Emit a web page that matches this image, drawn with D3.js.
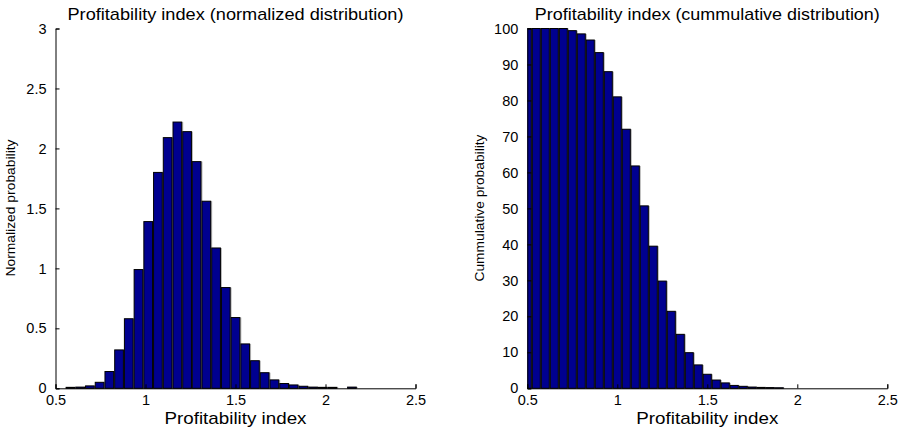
<!DOCTYPE html>
<html lang="en">
  <head>
    <meta charset="utf-8">
    <title>Profitability index</title>
    <script src="https://d3js.org/d3.v7.min.js"></script>
    <style>
      body { margin: 0; background: #fff; }
      text { font-family: "Liberation Sans", Arial, sans-serif; fill: #000; }
    </style>
  </head>
  <body>
    <div id="chart"></div>
    <script>
      // normalized histogram (bin centres + density)
      var normCenters = [0.583, 0.637, 0.691, 0.745, 0.799, 0.853, 0.907, 0.961, 1.015, 1.069,
                         1.123, 1.177, 1.231, 1.284, 1.338, 1.392, 1.446, 1.500, 1.554, 1.608,
                         1.662, 1.716, 1.770, 1.823, 1.877, 1.931, 1.985, 2.039, 2.093, 2.147];
      var normValues = [0.008, 0.01, 0.02, 0.05, 0.14, 0.32, 0.58, 0.99, 1.39, 1.80,
                        2.09, 2.22, 2.14, 1.89, 1.56, 1.17, 0.84, 0.59, 0.37, 0.23,
                        0.13, 0.07, 0.04, 0.028, 0.017, 0.01, 0.008, 0.008, 0, 0.01];
      var normBinWidth = 0.0539;

      // cumulative (percent above)
      var cumCenters = [0.50, 0.55, 0.60, 0.65, 0.70, 0.75, 0.80, 0.85, 0.90, 0.95,
                        1.00, 1.05, 1.10, 1.15, 1.20, 1.25, 1.30, 1.35, 1.40, 1.45,
                        1.50, 1.55, 1.60, 1.65, 1.70, 1.75, 1.80, 1.85, 1.90];
      var cumValues = [100, 100, 100, 100, 100, 99.4, 98.5, 96.8, 93.3, 88.0,
                       81.0, 72.0, 61.8, 50.7, 39.5, 29.8, 21.4, 15.0, 9.9, 6.5,
                       3.9, 2.3, 1.5, 0.8, 0.55, 0.35, 0.25, 0.2, 0.15];
      var cumBinWidth = 0.05;

      var xTicks = [0.5, 1, 1.5, 2, 2.5];
      var normYTicks = [0, 0.5, 1, 1.5, 2, 2.5, 3];
      var cumYTicks = [0, 10, 20, 30, 40, 50, 60, 70, 80, 90, 100];

      var BAR_FILL = "#00008f";
      var W = 899, H = 432;

      var svg = d3.select("#chart").append("svg")
        .attr("width", W)
        .attr("height", H);

      function drawPanel(opt) {
        var xScale = d3.scaleLinear().domain([0.5, 2.5]).range([opt.left, opt.left + 360]);
        var yScale = d3.scaleLinear().domain(opt.yDomain).range([388.3, 28.5]);
        var g = svg.append("g");

        g.append("clipPath").attr("id", opt.id + "clip")
          .append("rect")
            .attr("x", opt.left).attr("y", 0)
            .attr("width", 362).attr("height", 389);

        var bw = xScale(0.5 + opt.binWidth) - xScale(0.5);
        var bars = g.append("g").attr("clip-path", "url(#" + opt.id + "clip)");

        // light grey edge on the right side of bars
        bars.selectAll("rect.shade")
          .data(opt.values)
          .enter().append("rect")
            .attr("class", "shade")
            .attr("x", function(d, i) { return xScale(opt.centers[i]) - bw / 2 + 1; })
            .attr("y", function(d) { return yScale(d); })
            .attr("width", bw)
            .attr("height", function(d) { return yScale(0) - yScale(d); })
            .attr("fill", "#b4b4b4");

        bars.selectAll("rect.bar")
          .data(opt.values)
          .enter().append("rect")
            .attr("class", "bar")
            .attr("x", function(d, i) { return xScale(opt.centers[i]) - bw / 2 + 0.5; })
            .attr("y", function(d) { return yScale(d); })
            .attr("width", bw - 1)
            .attr("height", function(d) { return yScale(0) - yScale(d); })
            .attr("fill", BAR_FILL)
            .attr("stroke", "#000")
            .attr("stroke-width", 1);

        var xAxis = d3.axisBottom(xScale).tickValues(xTicks)
          .tickSize(-4).tickPadding(8).tickFormat(d3.format("~g"));
        var gx = g.append("g")
          .attr("transform", "translate(0,388.3)")
          .call(xAxis);
        gx.select(".domain").attr("stroke", "#000");
        gx.selectAll("text").attr("font-size", 14.5).attr("dy", "0.71em").attr("y", 6);

        var yAxis = d3.axisLeft(yScale).tickValues(opt.yTicks)
          .tickSize(-4).tickPadding(9).tickFormat(d3.format("~g"));
        var gy = g.append("g")
          .attr("transform", "translate(" + opt.left + ",0)")
          .call(yAxis);
        gy.select(".domain").attr("stroke", "#000");
        gy.selectAll("text").attr("font-size", 14.5);
        gx.attr("font-family", null);
        gy.attr("font-family", null);

        g.append("text")
          .attr("x", opt.left + 180)
          .attr("y", 20)
          .attr("text-anchor", "middle")
          .attr("font-size", 17)
          .attr("textLength", opt.titleLen)
          .attr("lengthAdjust", "spacingAndGlyphs")
          .text(opt.title);

        g.append("text")
          .attr("x", opt.left + 180)
          .attr("y", 424)
          .attr("text-anchor", "middle")
          .attr("font-size", 17)
          .attr("textLength", 142)
          .attr("lengthAdjust", "spacingAndGlyphs")
          .text("Profitability index");

        g.append("text")
          .attr("transform", "translate(" + opt.yLabelX + ",208) rotate(-90)")
          .attr("text-anchor", "middle")
          .attr("font-size", 12.5)
          .attr("textLength", opt.yLabelLen)
          .attr("lengthAdjust", "spacingAndGlyphs")
          .text(opt.yLabel);
      }

      drawPanel({
        id: "norm",
        left: 55.5,
        yDomain: [0, 3],
        yTicks: normYTicks,
        centers: normCenters,
        values: normValues,
        binWidth: normBinWidth,
        title: "Profitability index (normalized distribution)",
        titleLen: 336,
        yLabel: "Normalized probability",
        yLabelLen: 137,
        yLabelX: 15
      });

      drawPanel({
        id: "cum",
        left: 527.3,
        yDomain: [0, 100],
        yTicks: cumYTicks,
        centers: cumCenters,
        values: cumValues,
        binWidth: cumBinWidth,
        title: "Profitability index (cummulative distribution)",
        titleLen: 345,
        yLabel: "Cummulative probability",
        yLabelLen: 147,
        yLabelX: 484
      });
    </script>
  </body>
</html>
